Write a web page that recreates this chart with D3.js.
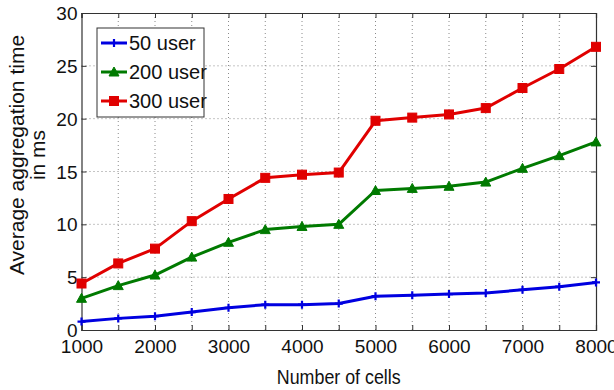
<!DOCTYPE html>
<html>
<head>
<meta charset="utf-8">
<script src="https://cdn.jsdelivr.net/npm/d3@7/dist/d3.min.js"></script>
<style>
    body { margin: 0; background: #fff; }
    svg { font-family: "Liberation Sans", Arial, sans-serif; }
    .grid line { stroke: #8a8a8a; stroke-width: 1; stroke-dasharray: 1,3; }
</style>
</head>
<body>
<svg id="chart" width="614" height="390"></svg>
<script>
// cells on the x axis
var cells = [1000, 1500, 2000, 2500, 3000, 3500, 4000, 4500, 5000, 5500, 6000, 6500, 7000, 7500, 8000];
var user50 = [0.8, 1.1, 1.3, 1.7, 2.1, 2.4, 2.4, 2.5, 3.2, 3.3, 3.4, 3.5, 3.8, 4.1, 4.5];
var user200 = [3.0, 4.2, 5.2, 6.9, 8.3, 9.5, 9.8, 10.0, 13.2, 13.4, 13.6, 14.0, 15.3, 16.5, 17.8];
var user300 = [4.4, 6.3, 7.7, 10.3, 12.4, 14.4, 14.7, 14.9, 19.8, 20.1, 20.4, 21.0, 22.9, 24.7, 26.8];
var xTicks = [1000, 1500, 2000, 2500, 3000, 3500, 4000, 4500, 5000, 5500, 6000, 6500, 7000, 7500, 8000];
var yTicks = [0, 5, 10, 15, 20, 25, 30];
var seriesNames = ['50 user', '200 user', '300 user'];
var seriesColors = ['#0000e0', '#007a00', '#e00000'];
var seriesMarkers = ['plus', 'triangle', 'square'];

var svg = d3.select("#chart"),
    margin = {left: 81.5, right: 18, top: 13, bottom: 60},
    width = +svg.attr("width") - margin.left - margin.right,
    height = +svg.attr("height") - margin.top - margin.bottom;

var x = d3.scaleLinear().domain([1000, 8000]).range([0, width]);
var y = d3.scaleLinear().domain([0, 30]).range([height, 0]);

var g = svg.append("g")
    .attr("transform", "translate(" + margin.left + "," + margin.top + ")");

// dotted grid
var grid = g.append("g").attr("class", "grid");
grid.selectAll(".vx")
    .data(xTicks.filter(function (d) { return d > 1000 && d < 8000; }))
    .enter().append("line")
    .attr("x1", function (d) { return x(d); })
    .attr("x2", function (d) { return x(d); })
    .attr("y1", 0).attr("y2", height);
grid.selectAll(".hy")
    .data(yTicks.filter(function (d) { return d > 0 && d < 30; }))
    .enter().append("line")
    .attr("y1", function (d) { return y(d); })
    .attr("y2", function (d) { return y(d); })
    .attr("x1", 0).attr("x2", width);

// axes (matlab style box, inward ticks), labels only on the thousands
var xAxis = g.append("g")
    .attr("transform", "translate(0," + height + ")")
    .call(d3.axisBottom(x).tickValues(xTicks).tickSize(-5).tickPadding(10)
        .tickFormat(function (d) { return d % 1000 === 0 ? d3.format("d")(d) : ""; }));
var yAxis = g.append("g")
    .call(d3.axisLeft(y).tickValues(yTicks).tickSize(-5).tickPadding(4));
g.append("g")
    .call(d3.axisTop(x).tickValues(xTicks).tickSize(-5).tickFormat(""));
g.append("g")
    .attr("transform", "translate(" + width + ",0)")
    .call(d3.axisRight(y).tickValues(yTicks).tickSize(-5).tickFormat(""));

g.selectAll(".domain").attr("stroke", "#333").attr("stroke-width", 1.2);
g.selectAll(".tick line").attr("stroke", "#333");
xAxis.selectAll("text").attr("font-size", 19).attr("fill", "#111");
yAxis.selectAll("text").attr("font-size", 19).attr("fill", "#111").attr("dy", "0.35em");

// lines
var line = d3.line()
    .x(function (d, i) { return x(cells[i]); })
    .y(function (d) { return y(d); });

var allSeries = [user50, user200, user300];

function drawMarker(sel, type, color) {
    if (type === 'plus') {
        sel.append("path")
            .attr("d", "M-4,0H4M0,-4V4")
            .attr("stroke", color).attr("stroke-width", 2.2).attr("fill", "none");
    } else if (type === 'triangle') {
        sel.append("path")
            .attr("d", "M0,-5L5,4H-5Z")
            .attr("fill", color).attr("stroke", color).attr("stroke-width", 1);
    } else {
        sel.append("rect")
            .attr("x", -4.5).attr("y", -4.5).attr("width", 9).attr("height", 9)
            .attr("fill", color).attr("stroke", color).attr("stroke-width", 1);
    }
}

allSeries.forEach(function (vals, k) {
    g.append("path")
        .datum(vals)
        .attr("fill", "none")
        .attr("stroke", seriesColors[k])
        .attr("stroke-width", 3)
        .attr("stroke-linejoin", "round")
        .attr("d", line);
    g.append("g").selectAll("g")
        .data(vals)
        .enter().append("g")
        .attr("transform", function (d, i) { return "translate(" + x(cells[i]) + "," + y(d) + ")"; })
        .each(function () { drawMarker(d3.select(this), seriesMarkers[k], seriesColors[k]); });
});

// legend
var legend = g.append("g").attr("transform", "translate(" + (97 - margin.left) + "," + (28 - margin.top) + ")");
legend.append("rect")
    .attr("width", 107).attr("height", 89)
    .attr("fill", "#fff").attr("stroke", "#333").attr("stroke-width", 1);
seriesNames.forEach(function (name, k) {
    var row = legend.append("g").attr("transform", "translate(0," + (15 + k * 29) + ")");
    row.append("line")
        .attr("x1", 4).attr("x2", 30)
        .attr("stroke", seriesColors[k]).attr("stroke-width", 3);
    drawMarker(row.append("g").attr("transform", "translate(17,0)"), seriesMarkers[k], seriesColors[k]);
    row.append("text")
        .attr("x", 32).attr("dy", "0.35em")
        .attr("font-size", 20).attr("fill", "#111")
        .text(name);
});

// axis titles
svg.append("text")
    .attr("transform", "translate(" + (margin.left + width / 2) + ",384) scale(0.85,1)")
    .attr("text-anchor", "middle").attr("font-size", 21).attr("fill", "#111")
    .text("Number of cells");
var yt = svg.append("text")
    .attr("transform", "translate(24,155) rotate(-90)")
    .attr("text-anchor", "middle").attr("font-size", 21).attr("fill", "#111");
yt.append("tspan").attr("x", 0).attr("dy", 0).text("Average aggregation time");
yt.append("tspan").attr("x", 0).attr("dy", 21).text("in ms");
</script>
</body>
</html>
